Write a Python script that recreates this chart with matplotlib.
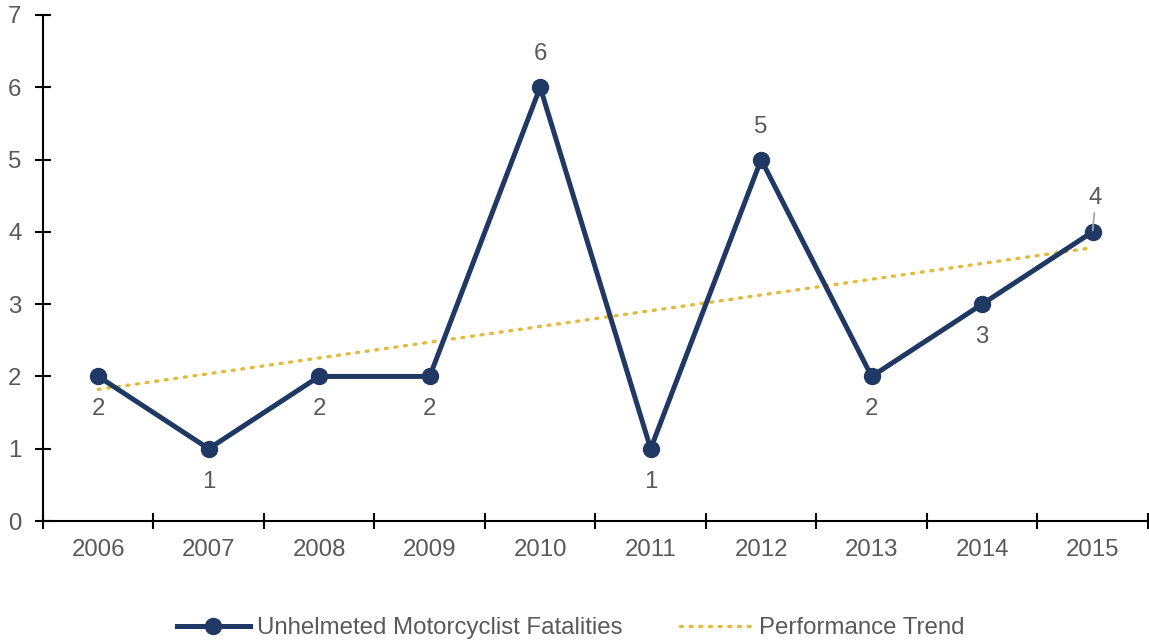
import numpy as np
import matplotlib.pyplot as plt
from matplotlib.ticker import FixedLocator, NullFormatter

plt.rcParams['font.family'] = ['Liberation Sans', 'DejaVu Sans']

years = ["2006", "2007", "2008", "2009", "2010", "2011", "2012", "2013", "2014", "2015"]
fatalities = [2, 1, 2, 2, 6, 1, 5, 2, 3, 4]
# trend line end values
trend_years = [0, 9]
trend_values = [1.82, 3.78]
# which labels sit above the point
label_above = [False, False, False, False, True, False, True, False, False, True]

navy = "#1F3864"
gold = "#E2BA3C"
grey = "#595959"
fs = 17.3

fig = plt.figure(figsize=(11.49, 6.43), dpi=100)
ax = fig.add_axes([0.0374, 0.1897, 0.9616, 0.787])

x = np.arange(len(years))
ax.plot(x, fatalities, color=navy, lw=3.6, marker="o", markersize=11.5,
        label="Unhelmeted Motorcyclist Fatalities", zorder=3)
ax.plot(trend_years, trend_values, color=gold, lw=2.4, linestyle=(0, (0.6, 2.3)),
        dash_capstyle="round", label="Performance Trend", zorder=2)

for i in range(len(years)):
    if label_above[i]:
        if i == len(years) - 1:
            ax.annotate(str(fatalities[i]), xy=(x[i], fatalities[i]),
                        xytext=(3, 34), textcoords="offset pixels",
                        ha="center", va="center", fontsize=fs, color=grey, zorder=4,
                        arrowprops=dict(arrowstyle="-", color="#A6A6A6", lw=1.3,
                                        shrinkA=1, shrinkB=1))
        else:
            ax.annotate(str(fatalities[i]), xy=(x[i], fatalities[i]),
                        xytext=(0, 33), textcoords="offset pixels",
                        ha="center", va="center", fontsize=fs, color=grey)
    else:
        ax.annotate(str(fatalities[i]), xy=(x[i], fatalities[i]),
                    xytext=(0, -33), textcoords="offset pixels",
                    ha="center", va="center", fontsize=fs, color=grey)

ax.set_xlim(-0.5, len(years) - 0.5)
ax.set_ylim(0, 7)
ax.set_yticks(range(8))
ax.set_xticks(x)
ax.set_xticklabels(years)
ax.xaxis.set_minor_locator(FixedLocator(np.arange(-0.5, len(years), 1.0)))
ax.xaxis.set_minor_formatter(NullFormatter())
ax.tick_params(axis="x", which="major", length=0, pad=13, labelsize=fs, labelcolor=grey)
ax.tick_params(axis="x", which="minor", direction="inout", length=11, width=1.5, color="black")
ax.tick_params(axis="y", direction="inout", length=11, width=1.5, pad=10, labelsize=fs,
               labelcolor=grey)

for s in ["top", "right"]:
    ax.spines[s].set_visible(False)
ax.spines["left"].set_linewidth(1.5)
ax.spines["bottom"].set_linewidth(1.5)

fig.legend(loc="center", bbox_to_anchor=(0.497, 0.023), ncol=2, frameon=False,
           fontsize=fs, labelcolor=grey, handlelength=3.0, handletextpad=0.3,
           columnspacing=2.4)

fig.savefig("out.png", dpi=100)
